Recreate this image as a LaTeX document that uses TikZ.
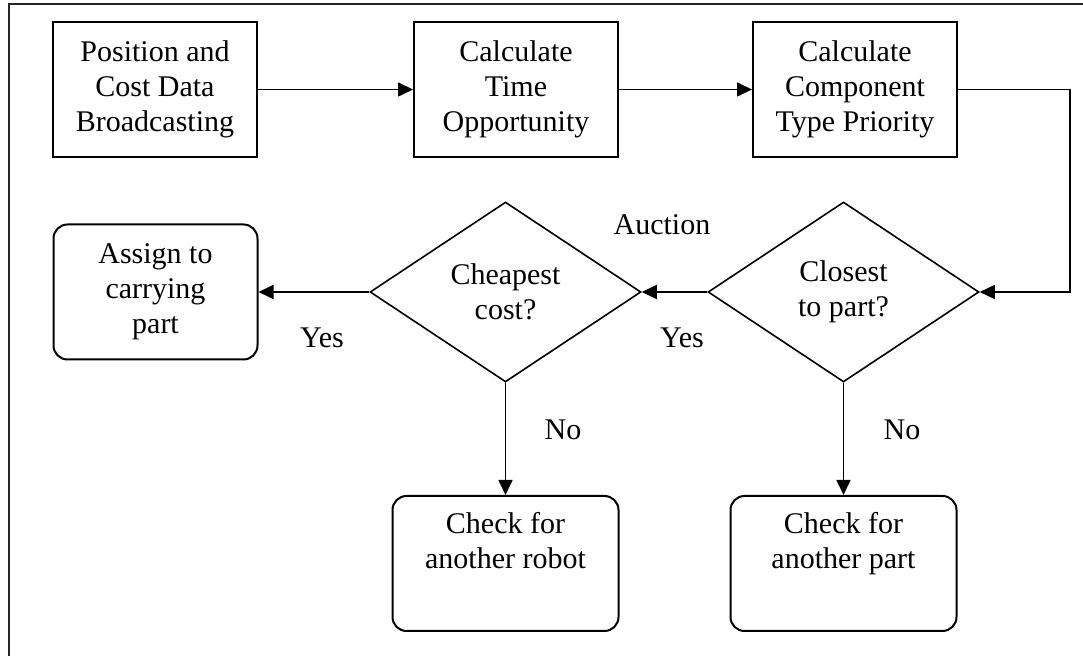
\documentclass[tikz,border=0pt]{standalone}
\usepackage{fontspec}
\setmainfont{Liberation Serif}
\usetikzlibrary{shapes.geometric,arrows.meta}
\begin{document}
\begin{tikzpicture}[x=0.5pt,y=-0.5pt,
  every node/.style={font=\fontsize{15pt}{17.5pt}\selectfont},
  procbox/.style={draw,line width=1pt,minimum width=102pt,minimum height=67.5pt,inner sep=0pt,align=center},
  roundbox/.style={procbox,rounded corners=7pt},
  widebox/.style={roundbox,minimum width=113pt},
  decision/.style={draw,line width=0.8pt,diamond,inner sep=0pt,minimum width=135.5pt,minimum height=90pt,align=center},
  flow/.style={line width=0.85pt,-{Triangle[length=7.5pt,width=7pt]}},
  lbl/.style={anchor=base,inner sep=0pt}]
\useasboundingbox (0,0) rectangle (1083,656);
% frame edges
\draw[line width=1pt,black!85] (8.5,656) -- (8.5,4) -- (1083,4);

% top row of process steps
\node[procbox] (bcast) at (155,89.5) {Position and\\Cost Data\\Broadcasting};
\node[procbox] (timeop) at (516,89.5) {Calculate\\Time\\Opportunity};
\node[procbox] (prio) at (855,89.5) {Calculate\\Component\\Type Priority};

% decisions
\node[decision] (cheap) at (505.5,292) {Cheapest\\cost?};
\node[decision] (close) at (843.5,292) {Closest\\to part?};

% outcomes
\node[roundbox] (assign) at (155.5,292) {Assign to\\carrying\\part};
\node[widebox] (robot) at (505.5,563.5) {Check for\\another robot\\\strut};
\node[widebox] (part) at (843.5,563.5) {Check for\\another part\\\strut};

% turn point of the feedback line
\coordinate (turn) at (1070,89.5);

% connectors
\draw[flow] (bcast) -- (timeop);
\draw[flow] (timeop) -- (prio);
\draw[flow] (prio.east) -- (turn) |- (close.east);
\draw[flow] (close.west) -- (cheap.east);
\draw[flow] (cheap.west) -- (assign.east);
\draw[flow] (cheap.south) -- (robot.north);
\draw[flow] (close.south) -- (part.north);

% labels
\node[lbl] (auction) at (662,235) {Auction};
\node[lbl] (yesa) at (322,348) {Yes};
\node[lbl] (yesb) at (682,348) {Yes};
\node[lbl] (noa) at (563,440) {No};
\node[lbl] (nob) at (902,440) {No};
\end{tikzpicture}
\end{document}
